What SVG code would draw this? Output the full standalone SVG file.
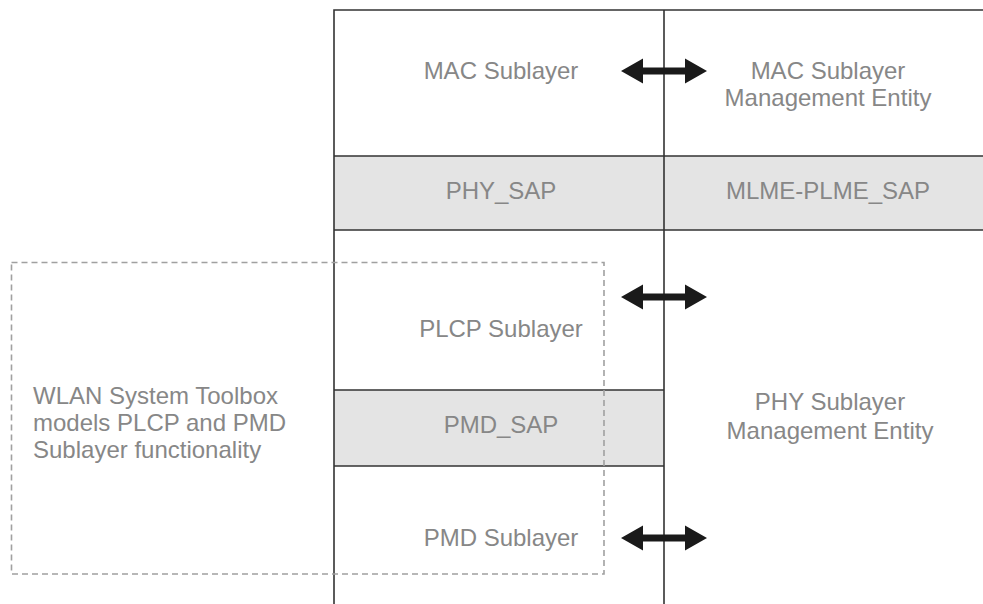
<svg xmlns="http://www.w3.org/2000/svg" width="983" height="604" viewBox="0 0 983 604">
<style>
.t{font-family:"Liberation Sans",Arial,sans-serif;font-size:24px;fill:#878787;text-anchor:middle}
.tl{font-family:"Liberation Sans",Arial,sans-serif;font-size:24px;fill:#878787}
.ln{stroke:#333;stroke-width:1.6;fill:none}
.sap{fill:#e4e4e4;stroke:none}
.dash{fill:none;stroke:#a0a0a0;stroke-width:1.6;stroke-dasharray:6 4}
.arr{fill:#1a1a1a}
</style>
<rect width="983" height="604" fill="#fff"/>
<g id="sap-bands">
<rect class="sap" x="334" y="156" width="649" height="74"/>
<rect class="sap" x="334" y="390" width="330" height="76"/>
</g>
<g id="frame">
<path class="ln" d="M334 604V10H983M664 10V604M334 156H983M334 230H983M334 390H664M334 466H664"/>
</g>
<g id="mac-sublayer"><text class="t" x="501" y="79">MAC Sublayer</text></g>
<g id="mlme"><text class="t" x="828" y="79">MAC Sublayer</text><text class="t" x="828" y="106">Management Entity</text></g>
<g id="phy-sap"><text class="t" x="501" y="199">PHY_SAP</text></g>
<g id="mlme-plme-sap"><text class="t" x="828" y="199">MLME-PLME_SAP</text></g>
<g id="plcp-sublayer"><text class="t" x="501" y="337">PLCP Sublayer</text></g>
<g id="pmd-sap"><text class="t" x="501" y="433">PMD_SAP</text></g>
<g id="pmd-sublayer"><text class="t" x="501" y="546">PMD Sublayer</text></g>
<g id="plme"><text class="t" x="830" y="410">PHY Sublayer</text><text class="t" x="830" y="439">Management Entity</text></g>
<g id="wlan-toolbox">
<rect class="dash" x="11.5" y="262.5" width="592.5" height="311.5"/>
<text class="tl" x="33" y="404">WLAN System Toolbox</text>
<text class="tl" x="33" y="431">models PLCP and PMD</text>
<text class="tl" x="33" y="458">Sublayer functionality</text>
</g>
<g id="connectors">
<path class="arr" d="M621 71L643 58.5V67.5H685V58.5L707 71L685 83.5V74.5H643V83.5Z"/>
<path class="arr" d="M621 297L643 284.5V293.5H685V284.5L707 297L685 309.5V300.5H643V309.5Z"/>
<path class="arr" d="M621 538L643 525.5V534.5H685V525.5L707 538L685 550.5V541.5H643V550.5Z"/>
</g>
</svg>
